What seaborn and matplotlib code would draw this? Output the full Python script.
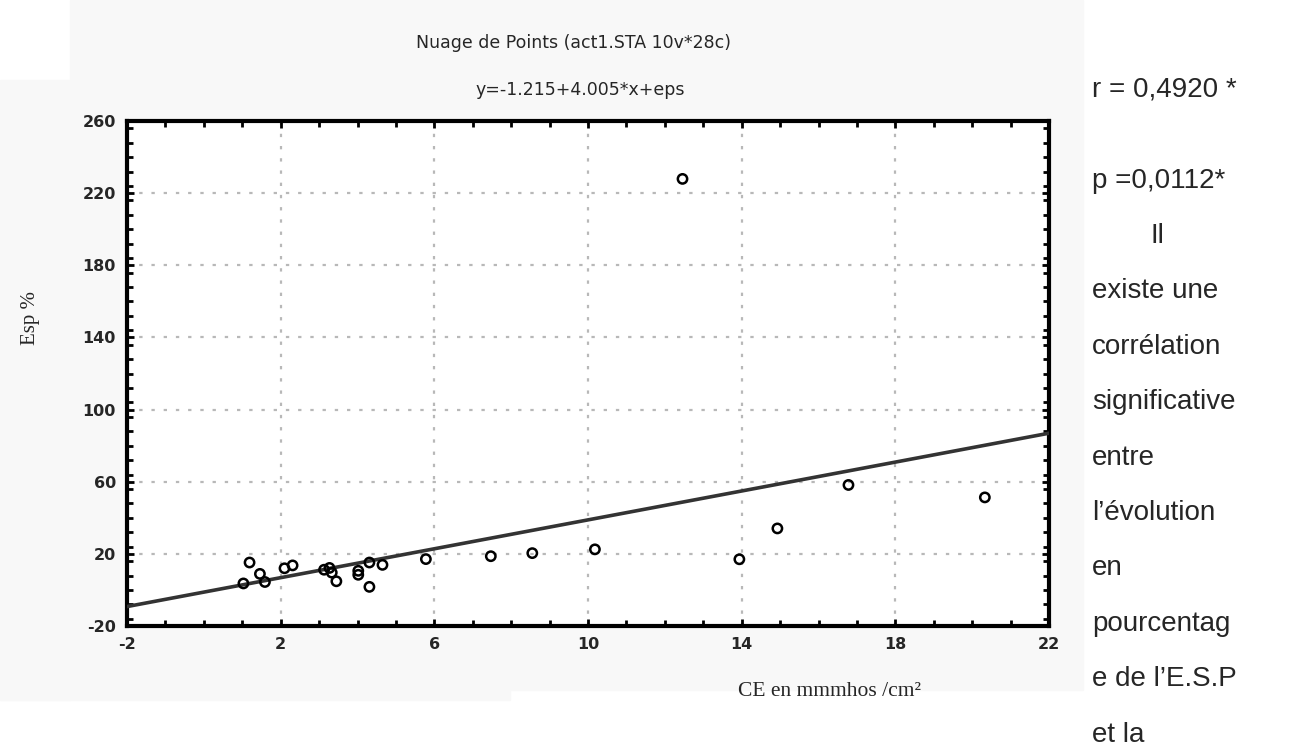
import matplotlib
matplotlib.use("Agg")
import matplotlib.pyplot as plt
import seaborn as sns
import numpy as np
import pandas as pd
from matplotlib.ticker import MultipleLocator
from matplotlib.patches import Rectangle

# ---- data ----
ce = [1.03, 1.19, 1.46, 1.59, 2.10, 2.31, 3.13, 3.27, 3.33, 3.45, 4.02, 4.02,
      4.31, 4.31, 4.65, 5.78, 7.47, 8.55, 10.18, 12.46, 13.94, 14.93, 16.78, 20.33]
esp = [3.6, 15.2, 8.9, 4.4, 12.0, 13.6, 11.2, 12.2, 9.6, 4.8, 10.6, 8.4,
       15.2, 1.7, 13.9, 17.1, 18.7, 20.4, 22.5, 227.9, 17.0, 34.1, 58.2, 51.3]
intercept = -1.215
slope = 4.005
x_ticks = [-2, 2, 6, 10, 14, 18, 22]
y_ticks = [-20, 20, 60, 100, 140, 180, 220, 260]

title1 = "Nuage de Points (act1.STA 10v*28c)"
title2 = "y=-1.215+4.005*x+eps"
xlabel = "CE en mmmhos /cm²"
ylabel = "Esp %"
side_lines = ["Il", "existe une", "corrélation", "significative", "entre", "l\u2019évolution",
              "en", "pourcentag", "e de l\u2019E.S.P", "et la"]

df = pd.DataFrame({"CE": ce, "ESP": esp})
line_x = np.array([x_ticks[0], x_ticks[-1]])
line_df = pd.DataFrame({"CE": line_x, "ESP": intercept + slope * line_x})

sns.set_theme(style="white")
plt.rcParams["font.family"] = ["DejaVu Sans"]
plt.rcParams["axes.unicode_minus"] = False

W, H = 1312, 751
fig = plt.figure(figsize=(W / 100, H / 100), dpi=100)
fig.patch.set_facecolor("white")

def px_rect(x0, y0, x1, y1, color):
    fig.patches.append(Rectangle((x0 / W, 1 - y1 / H), (x1 - x0) / W, (y1 - y0) / H,
                                 transform=fig.transFigure, color=color, zorder=-10))

px_rect(70, 0, 1083, 690, "#f8f8f8")
px_rect(0, 80, 70, 700, "#f8f8f8")
px_rect(0, 620, 510, 700, "#f8f8f8")

ax = fig.add_axes([127 / W, 1 - 626 / H, (1049 - 127) / W, (626 - 121) / H])
ax.set_facecolor("white")

sns.lineplot(data=line_df, x="CE", y="ESP", ax=ax, color="#333333", linewidth=2.6, zorder=3)
sns.scatterplot(data=df, x="CE", y="ESP", ax=ax, marker="o", s=45,
                facecolor="none", edgecolor="black", linewidth=1.8, zorder=4)

ax.set_xlim(x_ticks[0], x_ticks[-1])
ax.set_ylim(y_ticks[0], y_ticks[-1])
ax.set_xticks(x_ticks)
ax.set_yticks(y_ticks)
ax.xaxis.set_minor_locator(MultipleLocator(1))
ax.yaxis.set_minor_locator(MultipleLocator(8))
ax.grid(True, which="major", color="#b8b8b8", linestyle=(0, (1.5, 4)), linewidth=1.6)
ax.tick_params(which="both", direction="in", top=True, right=True, bottom=True, left=True,
               color="black", width=2)
ax.tick_params(which="major", length=5, labelsize=11.5, pad=8)
ax.tick_params(which="minor", length=4)
for lab in ax.get_xticklabels() + ax.get_yticklabels():
    lab.set_fontweight("bold")
for sp in ax.spines.values():
    sp.set_color("black")
    sp.set_linewidth(3)
ax.set_xlabel("")
ax.set_ylabel("")

fig.text(574 / W, 1 - 43 / H, title1, ha="center", va="center", fontsize=12.5)
fig.text(580 / W, 1 - 90 / H, title2, ha="center", va="center", fontsize=12.5)
fig.text(30 / W, 1 - 318 / H, ylabel, rotation=90, ha="center", va="center",
         fontsize=15, family="Liberation Serif")
fig.text(830 / W, 1 - 692 / H, xlabel, ha="center", va="center",
         fontsize=15.5, family="Liberation Serif")

fs = 20
fig.text(1092 / W, 1 - 90 / H, "r = 0,4920 *", ha="left", va="center", fontsize=fs,
         family="Liberation Sans")
fig.text(1092 / W, 1 - 181 / H, "p =0,0112*", ha="left", va="center", fontsize=fs,
         family="Liberation Sans")
y0, step = 236, 55.4
for i, t in enumerate(side_lines):
    if t == "Il":
        fig.text(1157 / W, 1 - (y0 + i * step) / H, t, ha="center", va="center",
                 fontsize=fs, family="Liberation Sans")
    else:
        fig.text(1092 / W, 1 - (y0 + i * step) / H, t, ha="left", va="center",
                 fontsize=fs, family="Liberation Sans")

fig.savefig("out.png", dpi=100)
